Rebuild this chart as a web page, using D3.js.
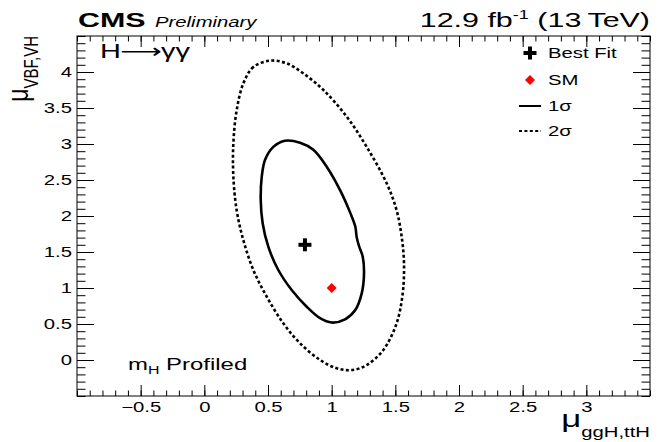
<!DOCTYPE html>
<html>
<head>
<meta charset="utf-8">
<script src="https://cdn.jsdelivr.net/npm/d3@7"></script>
<style>
  html, body { margin: 0; padding: 0; background: #fff; }
  svg { display: block; font-family: "Liberation Sans", Arial, Helvetica, sans-serif; }
</style>
</head>
<body>
<svg id="chart" width="662" height="442"></svg>
<script>
// Signal-strength scan: mu_ggH,ttH vs mu_VBF,VH, H -> gamma gamma
const xTickValues = [-0.5, 0, 0.5, 1, 1.5, 2, 2.5, 3];
const yTickValues = [0, 0.5, 1, 1.5, 2, 2.5, 3, 3.5, 4];

const bestFit = [0.79, 1.60];
const smPoint = [1.0, 1.0];

// 68% CL contour (x = mu_ggH,ttH, y = mu_VBF,VH)
const contour1x = [0.634, 0.542, 0.477, 0.451, 0.443, 0.458, 0.503, 0.581, 0.686, 0.804, 0.909, 1.000, 1.105, 1.184, 1.236, 1.254, 1.244, 1.215, 1.196, 1.186, 1.147, 1.066, 0.961, 0.856, 0.752];
const contour1y = [3.046, 2.960, 2.780, 2.546, 2.220, 1.900, 1.570, 1.250, 0.972, 0.740, 0.580, 0.520, 0.565, 0.690, 0.926, 1.200, 1.435, 1.580, 1.710, 1.850, 2.040, 2.360, 2.685, 2.920, 3.018];

// 95% CL contour
const contour2x = [0.516, 0.385, 0.306, 0.254, 0.228, 0.228, 0.254, 0.306, 0.385, 0.490, 0.620, 0.752, 0.909, 1.040, 1.157, 1.275, 1.406, 1.510, 1.558, 1.568, 1.550, 1.510, 1.432, 1.275, 1.118, 0.935, 0.778, 0.647];
const contour2y = [4.157, 4.070, 3.840, 3.470, 3.010, 2.546, 2.080, 1.667, 1.250, 0.880, 0.510, 0.232, 0.000, -0.115, -0.140, -0.070, 0.140, 0.510, 0.926, 1.343, 1.710, 2.080, 2.454, 2.960, 3.380, 3.750, 3.980, 4.120];

const legendLabels = ["Best Fit", "SM", "1σ", "2σ"];

const svg = d3.select("#chart");
const padL = 77, padR = 650, padT = 36, padB = 396;
const SX = 1.45; // wide lettering: glyphs are drawn stretched horizontally

const x = d3.scaleLinear().domain([-1, 3.5]).range([padL, padR]);
const y = d3.scaleLinear().domain([-0.5, 4.5]).range([padB, padT]);

const xMinor = d3.range(-10, 36).map(v => v / 10);
const yMinor = d3.range(-5, 46).map(v => v / 10);

function tickLayer(axis) {
  return g => {
    g.call(axis);
    g.select(".domain").remove();
    g.selectAll("line").attr("stroke", "#000").attr("stroke-width", 1);
  };
}

const fmt = v => d3.format("")(v).replace("-", "−");

// Minor and major ticks on all four sides, drawn inward
const axisDefs = [
  { gen: d3.axisBottom, sc: x, tr: `translate(0,${padB})`, minor: xMinor, major: xTickValues, mj: -11, mn: -5.5, labels: true },
  { gen: d3.axisTop, sc: x, tr: `translate(0,${padT})`, minor: xMinor, major: xTickValues, mj: -11, mn: -5.5, labels: false },
  { gen: d3.axisLeft, sc: y, tr: `translate(${padL},0)`, minor: yMinor, major: yTickValues, mj: -17, mn: -8.5, labels: true },
  { gen: d3.axisRight, sc: y, tr: `translate(${padR},0)`, minor: yMinor, major: yTickValues, mj: -17, mn: -8.5, labels: false }
];
axisDefs.forEach(d => {
  svg.append("g").attr("transform", d.tr)
    .call(tickLayer(d.gen(d.sc).tickValues(d.minor).tickSize(d.mn).tickFormat("")));
  const g = svg.append("g").attr("transform", d.tr)
    .call(tickLayer(d.gen(d.sc).tickValues(d.major).tickSize(d.mj)
      .tickFormat(d.labels ? fmt : "")));
  g.selectAll("text").attr("font-size", 14).attr("fill", "#000")
    .attr("font-family", "Liberation Sans, Arial, sans-serif")
    .attr("transform", `scale(${SX},1)`);
  // labels sit outside the frame while ticks point inward
  if (d.gen === d3.axisBottom) g.selectAll("text").attr("y", 6).attr("dy", "0.71em");
  if (d.gen === d3.axisLeft) g.selectAll("text").attr("x", -5 / SX);
});

// Frame
svg.append("rect").attr("x", padL).attr("y", padT)
  .attr("width", padR - padL).attr("height", padB - padT)
  .attr("fill", "none").attr("stroke", "#000").attr("stroke-width", 1);

// Contours
const line = d3.line().x(d => x(d[0])).y(d => y(d[1])).curve(d3.curveCatmullRomClosed.alpha(0.5));
const c1 = contour1x.map((v, i) => [v, contour1y[i]]);
const c2 = contour2x.map((v, i) => [v, contour2y[i]]);

svg.append("path").attr("d", line(c2)).attr("fill", "none")
  .attr("stroke", "#000").attr("stroke-width", 2.6).attr("stroke-dasharray", "3,2.4");
svg.append("path").attr("d", line(c1)).attr("fill", "none")
  .attr("stroke", "#000").attr("stroke-width", 2.6);

// Markers
function cross(g, cx, cy) {
  g.append("rect").attr("x", cx - 6.5).attr("y", cy - 2).attr("width", 13).attr("height", 4).attr("fill", "#000");
  g.append("rect").attr("x", cx - 2).attr("y", cy - 6.5).attr("width", 4).attr("height", 13).attr("fill", "#000");
}
function diamond(g, cx, cy) {
  g.append("path").attr("d", `M${cx},${cy - 5}L${cx + 5},${cy}L${cx},${cy + 5}L${cx - 5},${cy}Z`).attr("fill", "#ff0000");
}
cross(svg, x(bestFit[0]), y(bestFit[1]));
diamond(svg, x(smPoint[0]), y(smPoint[1]));

// Stretched text helper
function label(px, py, anchor) {
  return svg.append("text")
    .attr("transform", `translate(${px},${py}) scale(${SX},1)`)
    .attr("text-anchor", anchor || "start");
}

// Legend
const lg = svg.append("g");
const legY = [53, 80, 106, 131];
cross(lg, 530, legY[0]);
diamond(lg, 530, legY[1]);
lg.append("line").attr("x1", 519).attr("x2", 541).attr("y1", legY[2]).attr("y2", legY[2])
  .attr("stroke", "#000").attr("stroke-width", 2);
lg.append("line").attr("x1", 519).attr("x2", 541).attr("y1", legY[3]).attr("y2", legY[3])
  .attr("stroke", "#000").attr("stroke-width", 2).attr("stroke-dasharray", "3,2.4");
legendLabels.forEach((t, i) => {
  label(548, legY[i]).attr("dy", "0.36em").attr("font-size", 14).text(t);
});

// Header
const hdr = label(78, 27);
hdr.append("tspan").attr("font-weight", "bold").attr("font-size", 21).text("CMS");
hdr.append("tspan").attr("dx", 6.5).attr("font-style", "italic").attr("font-size", 14).text("Preliminary");

const lumi = label(650, 27, "end").attr("font-size", 21);
lumi.append("tspan").text("12.9 fb");
lumi.append("tspan").attr("dy", -8).attr("font-size", 12.5).text("-1");
lumi.append("tspan").attr("dy", 8).text(" (13\u2009TeV)");

// Process label and profiling note
const proc = label(100, 58).attr("font-size", 20);
proc.append("tspan").text("H");
proc.append("tspan").attr("font-family", "DejaVu Sans").attr("dx", -0.5).text("⟶");
proc.append("tspan").attr("dx", -0.5).text("γγ");
const note = label(128, 370).attr("font-size", 16.5);
note.append("tspan").text("m");
note.append("tspan").attr("dy", 4).attr("font-size", 11).text("H");
note.append("tspan").attr("dy", -4).text(" Profiled");

// Axis titles
const xt = label(650, 427, "end");
xt.append("tspan").attr("font-size", 24).text("μ");
xt.append("tspan").attr("dy", 10).attr("font-size", 14).text("ggH,ttH");

const yt = svg.append("text")
  .attr("transform", `translate(28,${padT}) scale(1.3,1) rotate(-90)`)
  .attr("text-anchor", "end");
yt.append("tspan").attr("font-size", 23).text("μ");
yt.append("tspan").attr("dy", 8).attr("font-size", 15).text("VBF,VH");
</script>
</body>
</html>
